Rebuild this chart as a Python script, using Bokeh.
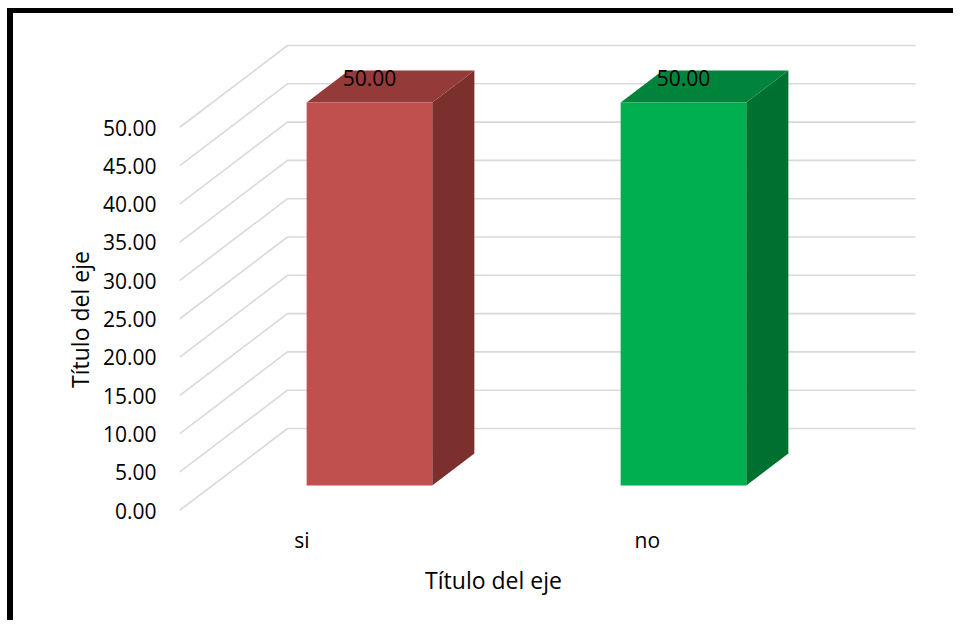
import math
from bokeh.plotting import figure
from bokeh.models import FixedTicker, Range1d
from bokeh.embed import file_html
from bokeh.resources import INLINE
from bokeh.core.properties import value

# ---- data ----
categories = ["si", "no"]
values = [50.0, 50.0]
value_labels = ["50.00", "50.00"]
y_ticks = [0, 5, 10, 15, 20, 25, 30, 35, 40, 45, 50]
y_tick_labels = ["0.00", "5.00", "10.00", "15.00", "20.00", "25.00",
                 "30.00", "35.00", "40.00", "45.00", "50.00"]
x_title = "Título del eje"
y_title = "Título del eje"
front_colors = ["#C0504D", "#00B050"]
top_colors = ["#943A38", "#00843C"]
side_colors = ["#7B302E", "#007030"]

# ---- layout / projection constants (pixels) ----
W, H = 946, 612
MB_L, MB_R, MB_T = 166, 30, 17
frame_w = W - MB_L - MB_R
frame_h = 578
MB_B = H - MB_T - frame_h
PX_X = 314.0          # pixels per category
PX_Y = 7.66           # pixels per value unit
Y0_FROM_BOTTOM = 98   # pixels from frame bottom up to value 0 (front plane)
DEPTH_X, DEPTH_Y = 108.0, 82.0
ddx = DEPTH_X / PX_X
ddy = DEPTH_Y / PX_Y
f1, f2 = 0.305, 0.695   # bar front / back depth
bw = 0.4
FONT = "Open Sans"
FS = "21px"
FS_TITLE = "23px"

y_lo = -Y0_FROM_BOTTOM / PX_Y
p = figure(width=W, height=H, output_backend="svg", toolbar_location=None,
           x_range=Range1d(0, frame_w / PX_X),
           y_range=Range1d(y_lo, y_lo + frame_h / PX_Y),
           min_border_left=MB_L, min_border_right=MB_R,
           min_border_top=MB_T, min_border_bottom=MB_B,
           styles={"border-left": "6px solid black", "border-top": "5px solid black",
                   "margin-left": "7px", "margin-top": "8px"})
p.grid.visible = False
p.outline_line_color = None
p.background_fill_color = "white"
p.border_fill_color = "white"

# gridlines: front diagonal + back wall
xs, ys = [], []
ncat = len(categories)
for t in y_ticks:
    xs.append([0, ddx, ddx + ncat])
    ys.append([t, t + ddy, t + ddy])
p.multi_line(xs, ys, line_color="#D9D9D9", line_width=1.6)

# bars
fx, fy, tx, ty, sx, sy = [], [], [], [], [], []
for i, v in enumerate(values):
    c = i + 0.5
    l, r = c - bw / 2, c + bw / 2
    fx.append([l + f1 * ddx, r + f1 * ddx, r + f1 * ddx, l + f1 * ddx])
    fy.append([f1 * ddy, f1 * ddy, v + f1 * ddy, v + f1 * ddy])
    tx.append([l + f1 * ddx, r + f1 * ddx, r + f2 * ddx, l + f2 * ddx])
    ty.append([v + f1 * ddy, v + f1 * ddy, v + f2 * ddy, v + f2 * ddy])
    sx.append([r + f1 * ddx, r + f2 * ddx, r + f2 * ddx, r + f1 * ddx])
    sy.append([f1 * ddy, f2 * ddy, v + f2 * ddy, v + f1 * ddy])
p.patches(sx, sy, fill_color=side_colors, line_color=None)
p.patches(tx, ty, fill_color=top_colors, line_color=None)
p.patches(fx, fy, fill_color=front_colors, line_color=None)

# value labels
lx = [i + 0.5 + (f1 + f2) / 2 * ddx - 21 / PX_X for i in range(ncat)]
ly = [v + (f1 + f2) / 2 * ddy + 9 / PX_Y for v in values]
p.text(lx, ly, text=value_labels, text_font=value(FONT), text_font_size=FS,
       text_align="center", text_baseline="middle", text_color="black")

# category labels (below the floor) and x-axis title
cat_x = [0.39, 1.49]
cat_y = [-29 / PX_Y] * ncat
p.text(cat_x, cat_y, text=categories, text_font=value(FONT), text_font_size=FS,
       text_align="center", text_baseline="middle", text_color="black")
p.text([ncat / 2], [-69 / PX_Y], text=[x_title], text_font=value(FONT),
       text_font_size=FS_TITLE, text_align="center", text_baseline="middle",
       text_color="black")
p.xaxis.visible = False

# y axis
ya = p.yaxis[0]
ya.ticker = FixedTicker(ticks=y_ticks)
ya.major_label_overrides = {t: s for t, s in zip(y_ticks, y_tick_labels)}
ya.axis_line_color = None
ya.major_tick_line_color = None
ya.minor_tick_line_color = None
ya.major_tick_out = 0
ya.major_label_standoff = 23
ya.major_label_text_font = FONT
ya.major_label_text_font_size = FS
ya.major_label_text_color = "black"
ya.axis_label = y_title
ya.axis_label_text_font = FONT
ya.axis_label_text_font_size = FS_TITLE
ya.axis_label_text_font_style = "normal"
ya.axis_label_text_color = "black"
ya.axis_label_standoff = 4

open("out.html", "w").write(file_html(p, INLINE))
